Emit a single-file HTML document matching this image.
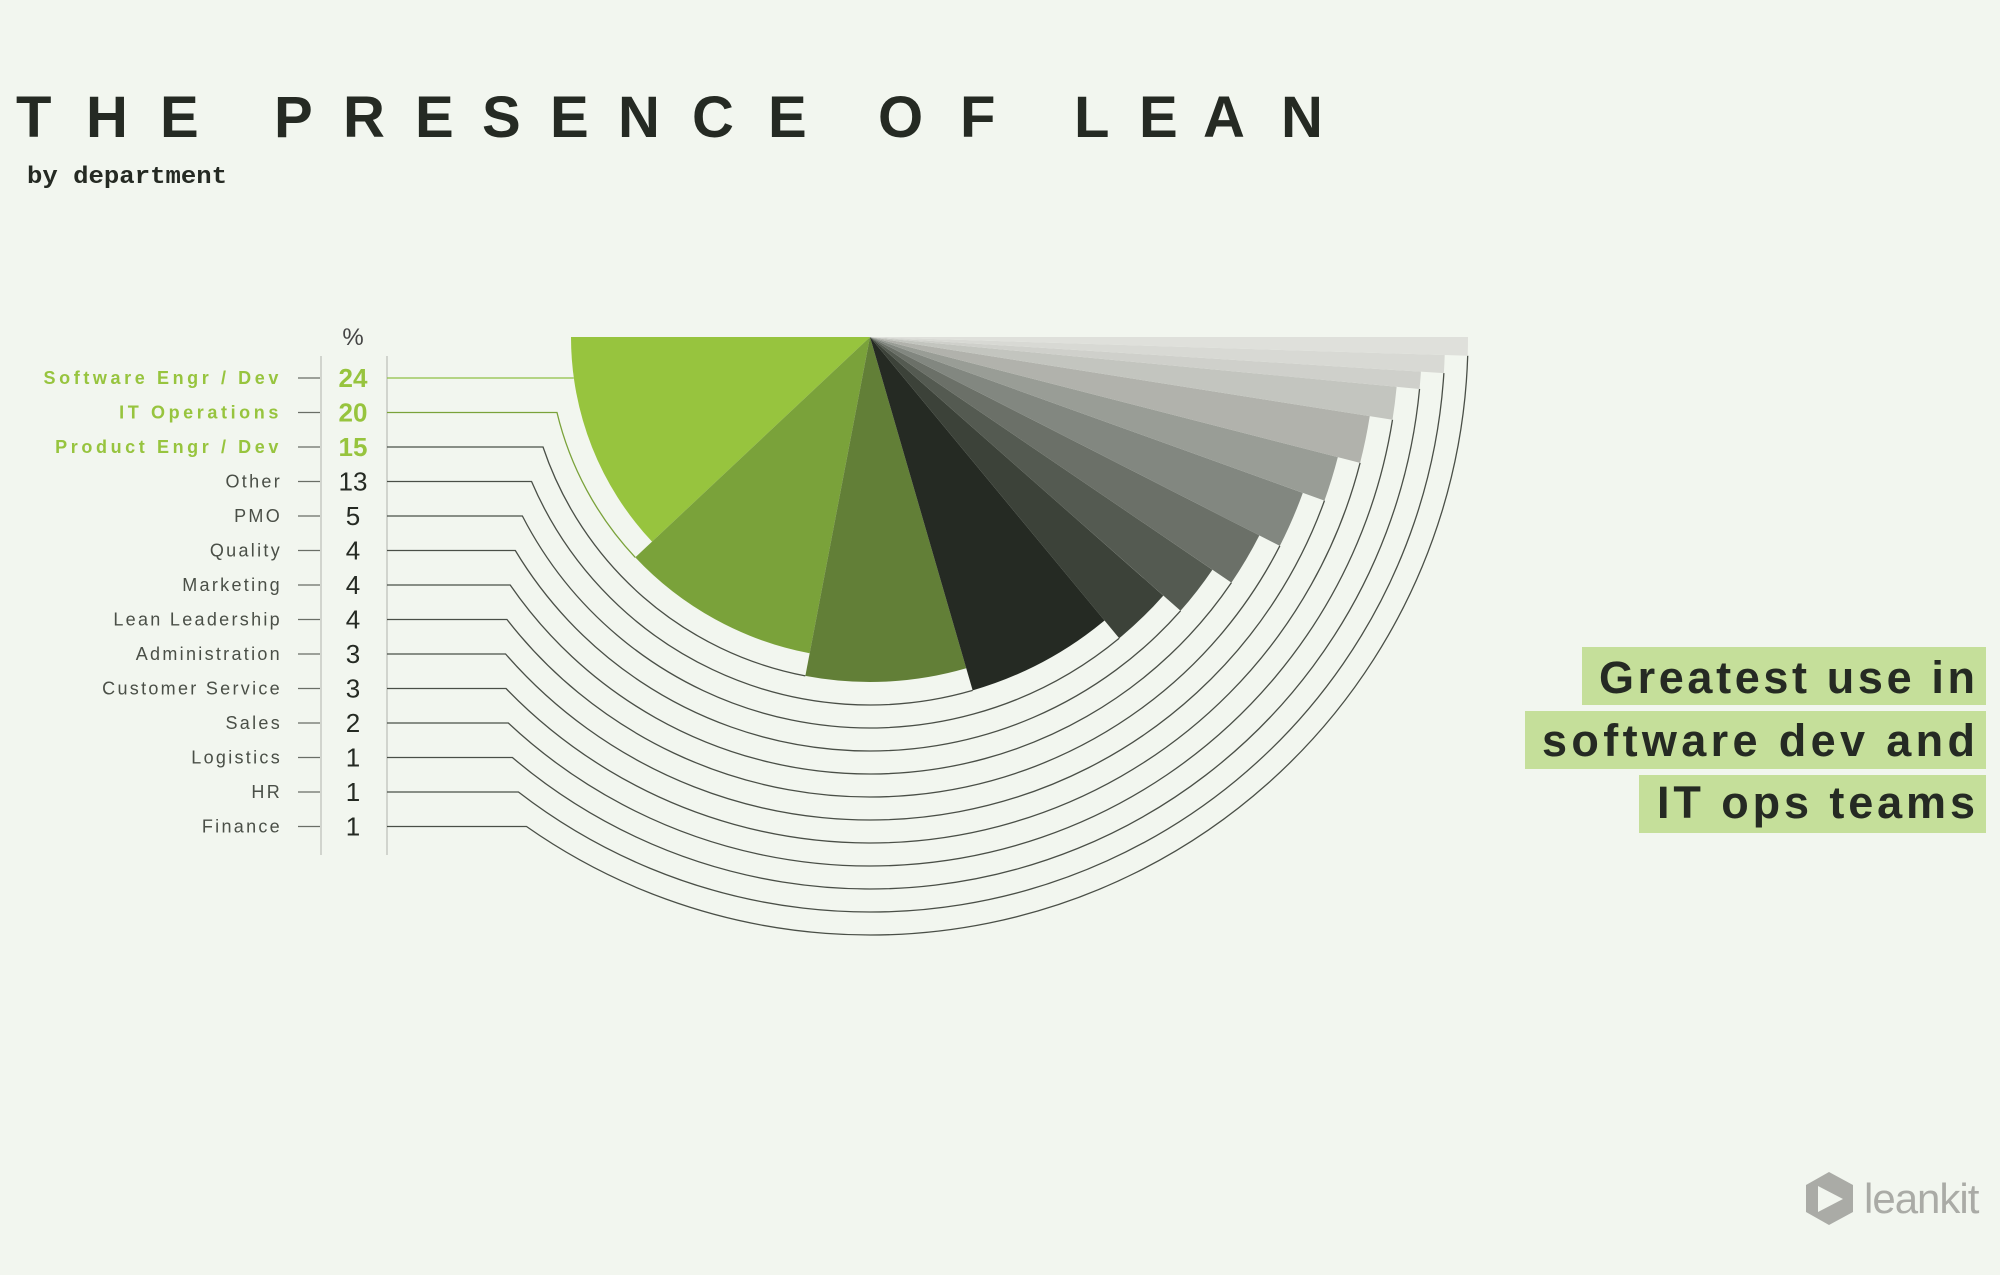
<!DOCTYPE html>
<html><head><meta charset="utf-8"><style>
html,body{margin:0;padding:0;background:#f2f6ef;}
svg{display:block}
</style></head><body>
<svg id="s" width="2000" height="1275" viewBox="0 0 2000 1275" xmlns="http://www.w3.org/2000/svg">
<rect width="2000" height="1275" fill="#f2f6ef"/>
<g font-family="Liberation Sans, sans-serif" font-weight="bold" font-size="58" fill="#252a23">
<text x="16" y="137">T</text><text x="86" y="137">H</text><text x="160" y="137">E</text>
<text x="274" y="137">P</text><text x="343" y="137">R</text><text x="415" y="137">E</text><text x="482" y="137">S</text><text x="550" y="137">E</text><text x="618" y="137">N</text><text x="692" y="137">C</text><text x="768" y="137">E</text>
<text x="878" y="137">O</text><text x="960" y="137">F</text>
<text x="1074" y="137">L</text><text x="1139" y="137">E</text><text x="1203" y="137">A</text><text x="1281" y="137">N</text>
</g>
<text x="27" y="183" font-family="Liberation Mono, monospace" font-weight="bold" font-size="24" fill="#252a23" textLength="200" lengthAdjust="spacingAndGlyphs">by department</text>

<text x="353" y="345" text-anchor="middle" font-family="Liberation Sans, sans-serif" font-size="24" fill="#444">%</text>
<line x1="321" y1="356" x2="321" y2="855" stroke="#bfc2bb" stroke-width="1.3"/>
<line x1="387" y1="356" x2="387" y2="855" stroke="#bfc2bb" stroke-width="1.3"/>
<g id="rows"></g>
<g id="chart"></g>

<g font-family="Liberation Sans, sans-serif" font-size="18" letter-spacing="2.3" text-anchor="end" fill="#4a4f47">
<text x="282" y="384" font-weight="bold" fill="#97c43e" letter-spacing="3.6">Software Engr / Dev</text>
<text x="282" y="418.5" font-weight="bold" fill="#97c43e" letter-spacing="3.6">IT Operations</text>
<text x="282" y="453" font-weight="bold" fill="#97c43e" letter-spacing="3.6">Product Engr / Dev</text>
<text x="282" y="487.5">Other</text>
<text x="282" y="522">PMO</text>
<text x="282" y="556.5">Quality</text>
<text x="282" y="591">Marketing</text>
<text x="282" y="625.5">Lean Leadership</text>
<text x="282" y="660">Administration</text>
<text x="282" y="694.5">Customer Service</text>
<text x="282" y="729">Sales</text>
<text x="282" y="763.5">Logistics</text>
<text x="282" y="798">HR</text>
<text x="282" y="832.5">Finance</text>
</g>
<g font-family="Liberation Sans, sans-serif" font-size="26" text-anchor="middle" fill="#252a23">
<text x="353" y="387" font-weight="bold" fill="#97c43e">24</text>
<text x="353" y="421.5" font-weight="bold" fill="#97c43e">20</text>
<text x="353" y="456" font-weight="bold" fill="#97c43e">15</text>
<text x="353" y="490.5">13</text>
<text x="353" y="525">5</text>
<text x="353" y="559.5">4</text>
<text x="353" y="594">4</text>
<text x="353" y="628.5">4</text>
<text x="353" y="663">3</text>
<text x="353" y="697.5">3</text>
<text x="353" y="732">2</text>
<text x="353" y="766.5">1</text>
<text x="353" y="801">1</text>
<text x="353" y="835.5">1</text>
</g>

<rect x="1582" y="647" width="404" height="58" fill="#c5df9a"/>
<rect x="1525" y="711" width="461" height="58" fill="#c5df9a"/>
<rect x="1639" y="775" width="347" height="58" fill="#c5df9a"/>
<g font-family="Liberation Sans, sans-serif" font-size="45" font-weight="bold" fill="#252a23">
<text x="1599" y="693" textLength="376" lengthAdjust="spacing">Greatest use in</text>
<text x="1542" y="756" textLength="433" lengthAdjust="spacing">software dev and</text>
<text x="1657" y="818" textLength="318" lengthAdjust="spacing">IT ops teams</text>
</g>

<g fill="#aaaba6">
<path d="M1829 1172 L1853 1185 L1853 1212 L1829 1225 L1806 1212 L1806 1185 Z"/>
<path d="M1818 1186 L1843 1199 L1818 1212 Z" fill="#f2f6ef"/>
<text x="1864" y="1213" font-family="Liberation Sans, sans-serif" font-size="42" letter-spacing="-1">leankit</text>
</g>
</svg>
<script>
(function(){
var NS="http://www.w3.org/2000/svg";
var cx=870,cy=337;
var pct=[24,20,15,13,5,4,4,4,3,3,2,1,1,1];
var cols=["#97c43e","#7aa23a","#627f37","#252a23","#3c4239","#545a51","#6b7068","#828780","#999d96","#b1b2ac","#c3c5bf","#cfd0cb","#d8d9d4","#dfe0db"];
var chart=document.getElementById("chart"),rows=document.getElementById("rows");
function P(r,a){var t=a*Math.PI/180;return [(cx+r*Math.cos(t)).toFixed(2),(cy+r*Math.sin(t)).toFixed(2)];}
function el(n,at,par){var e=document.createElementNS(NS,n);for(var k in at)e.setAttribute(k,at[k]);par.appendChild(e);return e;}
var cum=0;
for(var i=0;i<14;i++){
 var r=299+23*i;
 var as=180-1.8*cum; cum+=pct[i]; var ae=180-1.8*cum;
 var y=378+34.5*i;
 var dy=y-cy, dx=Math.sqrt(r*r-dy*dy), x0=cx-dx;
 var a0=Math.atan2(dy,-dx)*180/Math.PI;
 var col=i==0?"#8fbf45":(i==1?"#7aa23a":"#4a4f47");
 el("line",{x1:298,y1:y,x2:320,y2:y,stroke:"#6a6e66","stroke-width":1.3},rows);
 var d="M387 "+y+" L"+x0.toFixed(2)+" "+y;
 if(a0>as+0.01){var p=P(r,as);d+=" A"+r+" "+r+" 0 0 0 "+p[0]+" "+p[1];}
 el("path",{d:d,fill:"none",stroke:col,"stroke-width":1.3},rows);
 var p1=P(r,as),p2=P(r,ae);
 el("path",{d:"M"+cx+" "+cy+" L"+p1[0]+" "+p1[1]+" A"+r+" "+r+" 0 0 0 "+p2[0]+" "+p2[1]+" Z",fill:cols[i]},chart);
}
})();
</script>
</body></html>
